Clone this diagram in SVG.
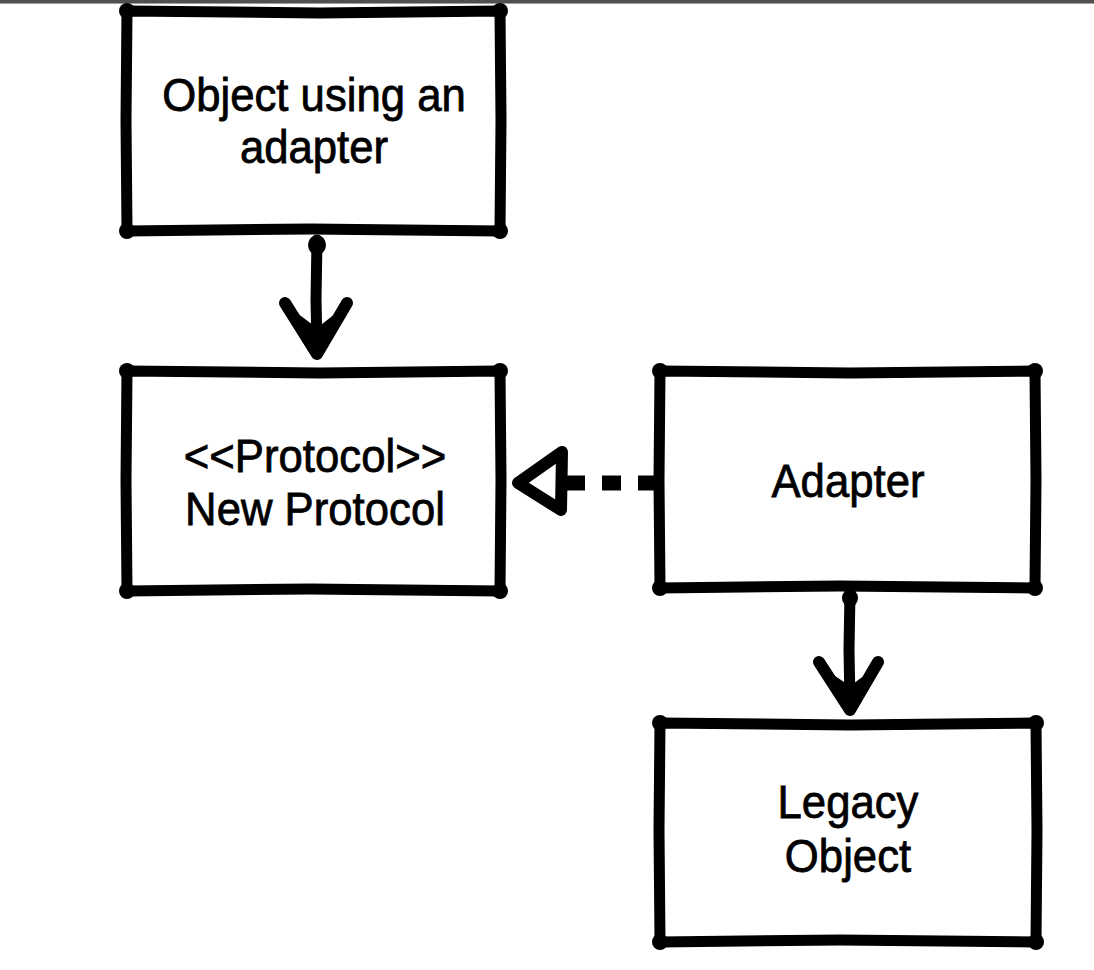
<svg xmlns="http://www.w3.org/2000/svg" width="1094" height="970" viewBox="0 0 1094 970">
<style>
.box{fill:#fff;stroke:#000;stroke-width:11;stroke-linejoin:round;stroke-linecap:round}
.dot{fill:#000}
.lbl{font-family:"Liberation Sans","DejaVu Sans",sans-serif;font-size:46px;fill:#000;stroke:#000;stroke-width:0.8;text-anchor:middle}
.conn{fill:none;stroke:#000;stroke-linecap:round;stroke-linejoin:round}
</style>
<rect x="0" y="0" width="1094" height="970" fill="#fff"/>
<rect x="0" y="0" width="1094" height="3" fill="#505050"/>
<rect x="0" y="3" width="1094" height="1" fill="#a0a0a0"/>

<g id="node-client">
<path class="box" d="M127 11 L320 13 L500 11 L501 120 L500 231 L310 229 L127 231 L126 120 Z"/>
<circle class="dot" cx="127" cy="11" r="8"/><circle class="dot" cx="500" cy="11" r="8"/>
<circle class="dot" cx="127" cy="231" r="8"/><circle class="dot" cx="500" cy="231" r="8"/>
<text class="lbl" transform="translate(314 111) scale(0.95 1)">Object using an</text>
<text class="lbl" transform="translate(314 163) scale(0.95 1)">adapter</text>
</g>

<g id="node-protocol">
<path class="box" d="M127 371 L320 373 L500 371 L501 480 L500 591 L310 589 L127 591 L126 480 Z"/>
<circle class="dot" cx="127" cy="371" r="8"/><circle class="dot" cx="500" cy="371" r="8"/>
<circle class="dot" cx="127" cy="591" r="8"/><circle class="dot" cx="500" cy="591" r="8"/>
<text class="lbl" transform="translate(315 472) scale(0.95 1)">&lt;&lt;Protocol&gt;&gt;</text>
<text class="lbl" transform="translate(315 525) scale(0.95 1)">New Protocol</text>
</g>

<g id="node-adapter">
<path class="box" d="M660 371 L850 373 L1035 371 L1036 480 L1035 588 L840 586 L660 588 L659 480 Z"/>
<circle class="dot" cx="660" cy="371" r="8"/><circle class="dot" cx="1035" cy="371" r="8"/>
<circle class="dot" cx="660" cy="588" r="8"/><circle class="dot" cx="1035" cy="588" r="8"/>
<text class="lbl" transform="translate(848 497) scale(0.95 1)">Adapter</text>
</g>

<g id="node-legacy">
<path class="box" d="M660 723 L850 725 L1036 723 L1037 830 L1036 942 L840 940 L660 942 L659 830 Z"/>
<circle class="dot" cx="660" cy="723" r="8"/><circle class="dot" cx="1036" cy="723" r="8"/>
<circle class="dot" cx="660" cy="942" r="8"/><circle class="dot" cx="1036" cy="942" r="8"/>
<text class="lbl" transform="translate(848 818) scale(0.95 1)">Legacy</text>
<text class="lbl" transform="translate(848 872) scale(0.95 1)">Object</text>
</g>

<g id="connectors">
<!-- client -> protocol -->
<ellipse cx="317" cy="245" rx="9" ry="10" fill="#000"/>
<path class="conn" d="M317 240 L316 300 L317 345" stroke-width="11"/>
<path class="conn" d="M285 303 L317 354 L347 303" stroke-width="12"/>
<path d="M293 310 L317 354 L340 310 L317 328 Z" fill="#000"/>
<!-- adapter -> legacy -->
<ellipse cx="850" cy="598" rx="8" ry="9" fill="#000"/>
<path class="conn" d="M850 592 L849 650 L850 703" stroke-width="11"/>
<path class="conn" d="M819 662 L850 710 L878 662" stroke-width="12"/>
<path d="M826 670 L850 710 L872 670 L850 686 Z" fill="#000"/>
<!-- adapter implements protocol (dashed, hollow triangle) -->
<path d="M657 483 L566 483" fill="none" stroke="#000" stroke-width="15" stroke-dasharray="19 17"/>
<path class="conn" d="M518 483 L562 452 L561 510 Z" fill="#fff" stroke-width="12"/>
</g>
</svg>
